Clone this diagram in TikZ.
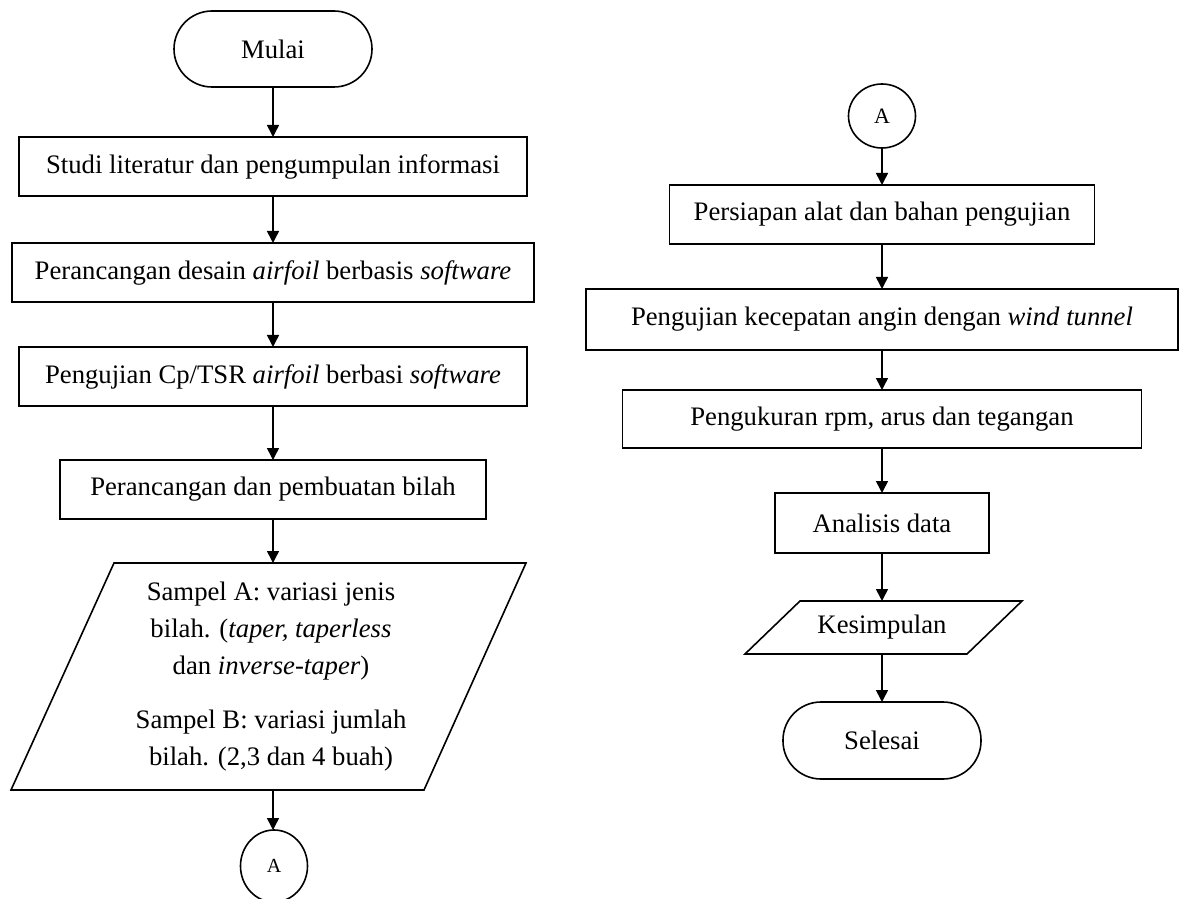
\documentclass[tikz,border=0pt]{standalone}
\usepackage{fontspec}
\setmainfont{Liberation Serif}
\usetikzlibrary{arrows.meta,shapes.geometric,calc}
\begin{document}
\begin{tikzpicture}[x=0.5pt,y=-0.5pt,
  every node/.style={font=\fontsize{13.35}{18.5}\selectfont, inner sep=0pt, outer sep=0pt},
  box/.style={draw, line width=0.8pt, rectangle, minimum height=29.5pt},
  term/.style={draw, line width=0.8pt, rectangle, rounded corners=19pt, minimum width=99pt, minimum height=38pt},
  conn/.style={draw, line width=0.8pt, ellipse, minimum width=33.5pt},
  arr/.style={line width=0.8pt, -{Triangle[length=6pt,width=6pt]}},
  para/.style={line width=0.8pt, line join=miter}
]
\useasboundingbox (0,0) rectangle (1180,899);
\clip (0,0) rectangle (1180,899);

% left column
\node[term] (mulai) at (273,49) {Mulai};
\node[box, minimum width=254pt] (b1) at (273,166.5) {Studi literatur dan pengumpulan informasi};
\node[box, minimum width=261pt] (b2) at (273,272.5) {Perancangan desain \textit{airfoil} berbasis \textit{software}};
\node[box, minimum width=254pt] (b3) at (273,376.5) {Pengujian Cp/TSR \textit{airfoil} berbasi \textit{software}};
\node[box, minimum width=213pt] (b4) at (273,489.5) {Perancangan dan pembuatan bilah};
\node[align=center, minimum height=113.5pt] (sampel) at (271,676.5)
  {Sampel A: variasi jenis\\ bilah. (\textit{taper, taperless}\\ dan \textit{inverse-taper})\\[8.5pt]
   Sampel B: variasi jumlah\\ bilah. (2,3 dan 4 buah)};
\draw[para] ($(sampel.north)+(-157,0)$) -- ($(sampel.north)+(255,0)$)
  -- ($(sampel.south)+(153,0)$) -- ($(sampel.south)+(-260,0)$) -- cycle;
\node[conn, minimum height=36pt, font=\fontsize{10}{12}\selectfont] (ca1) at (274,866) {\raisebox{-2.5pt}{A}};

\draw[arr] (mulai) -- (b1);
\draw[arr] (b1) -- (b2);
\draw[arr] (b2) -- (b3);
\draw[arr] (b3) -- (b4);
\draw[arr] (b4) -- (b4 |- sampel.north);
\draw[arr] (b4 |- sampel.south) -- (b4 |- ca1.north);

% right column
\node[conn, minimum height=32pt, font=\fontsize{11}{13}\selectfont] (ca2) at (882,116) {\raisebox{-2pt}{A}};
\node[box, minimum width=212.5pt] (r1) at (882,214.5) {Persiapan alat dan bahan pengujian};
\node[box, minimum width=296pt, minimum height=30.5pt] (r2) at (882,319.5) {Pengujian kecepatan angin dengan \textit{wind tunnel}};
\node[box, minimum width=259.5pt, minimum height=29pt] (r3) at (882,419) {Pengukuran rpm, arus dan tegangan};
\node[box, minimum width=107pt, minimum height=30pt] (r4) at (882,523) {Analisis data};
\node[minimum height=26.5pt] (kes) at (882,627.5) {Kesimpulan};
\draw[para] ($(kes.north)+(-82,0)$) -- ($(kes.north)+(140,0)$)
  -- ($(kes.south)+(85,0)$) -- ($(kes.south)+(-137,0)$) -- cycle;
\node[term, minimum height=38.5pt] (sel) at (882,740.5) {Selesai};

\draw[arr] (ca2) -- (r1);
\draw[arr] (r1) -- (r2);
\draw[arr] (r2) -- (r3);
\draw[arr] (r3) -- (r4);
\draw[arr] (r4) -- (kes);
\draw[arr] (kes) -- (sel);
\end{tikzpicture}
\end{document}
